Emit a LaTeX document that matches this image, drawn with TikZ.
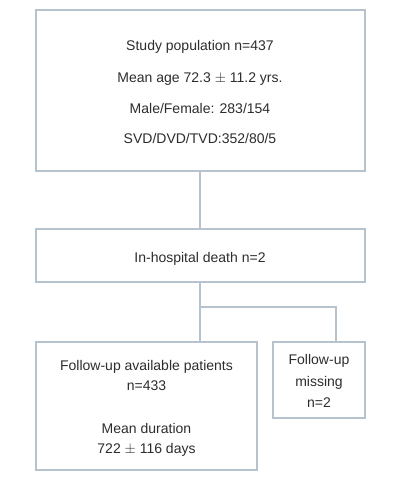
\documentclass[tikz,border=0pt]{standalone}
\usepackage{fontspec}
\setmainfont{Liberation Sans}
\definecolor{boxline}{RGB}{182,194,206}
\definecolor{txt}{RGB}{45,45,45}
\begin{document}
\begin{tikzpicture}[x=1pt,y=-1pt,
  box/.style={draw=boxline,line width=1.3pt,inner sep=0pt,outer sep=0pt},
  conn/.style={draw=boxline,line width=1.3pt},
  lbl/.style={text=txt,font=\fontsize{14}{16}\selectfont,inner sep=0pt,anchor=base}]
\useasboundingbox[fill=white] (0,0) rectangle (420,477);
% boxes
\node[box,minimum width=329pt,minimum height=161pt] (top) at (200.5,90.5) {};
\node[box,minimum width=329pt,minimum height=53pt] (mid) at (200.5,255.5) {};
\node[box,minimum width=221pt,minimum height=128pt] (left) at (146.5,406) {};
\node[box,minimum width=92pt,minimum height=76pt] (right) at (319,380) {};
\coordinate (br) at (200,307);
\coordinate (rt) at (336,342);
% connectors
\draw[conn] (top.south -| br) -- (mid.north -| br);
\draw[conn] (mid.south -| br) -- (left.north -| br);
\draw[conn] (br) -| (rt);
% texts
\node[lbl] (t1) at (200,50) {Study population n=437};
\node[lbl] (t2) at (200,82) {Mean age 72.3 $\pm$ 11.2 yrs.};
\node[lbl] (t3) at (200,113) {Male/Female: 283/154};
\node[lbl] (t4) at (200,143) {SVD/DVD/TVD:352/80/5};
\node[lbl] (t5) at (200,262) {In-hospital death n=2};
\node[lbl] (t6) at (146.5,370) {Follow-up available patients};
\node[lbl] (t7) at (146.5,390) {n=433};
\node[lbl] (t8) at (146.5,433) {Mean duration};
\node[lbl] (t9) at (146.5,453) {722 $\pm$ 116 days};
\node[lbl] (t10) at (319,364) {Follow-up};
\node[lbl] (t11) at (319,386) {missing};
\node[lbl] (t12) at (319,407) {n=2};
\end{tikzpicture}
\end{document}
